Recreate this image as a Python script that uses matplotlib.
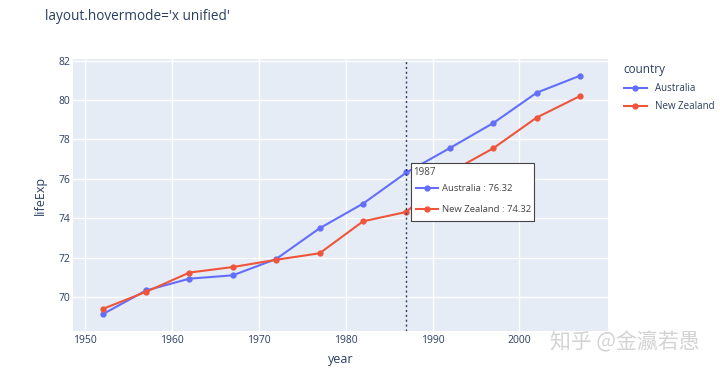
import matplotlib.pyplot as plt
from matplotlib.lines import Line2D

years = [1952, 1957, 1962, 1967, 1972, 1977, 1982, 1987, 1992, 1997, 2002, 2007]
australia = [69.12, 70.33, 70.93, 71.10, 71.93, 73.49, 74.74, 76.32, 77.56, 78.83, 80.37, 81.235]
new_zealand = [69.39, 70.26, 71.24, 71.52, 71.89, 72.22, 73.84, 74.32, 76.33, 77.55, 79.11, 80.204]
countries = ["Australia", "New Zealand"]
colors = ["#636efa", "#EF553B"]
hover_year = 1987

plt.rcParams['font.family'] = ['Open Sans', 'DejaVu Sans']
txt = "#2a3f5f"

fig = plt.figure(figsize=(7.2, 3.72), dpi=100)
ax = fig.add_axes([0.1014, 0.110, 0.743, 0.7314])
ax.set_facecolor("#E5ECF6")
for s in ax.spines.values():
    s.set_visible(False)
ax.grid(True, color="white", lw=1)
ax.set_axisbelow(True)

for name, vals, c in zip(countries, [australia, new_zealand], colors):
    ax.plot(years, vals, color=c, lw=1.5, marker="o", ms=3.5, label=name, zorder=3)

ax.set_xlim(1948.6, 2010.2)
ax.set_ylim(68.27, 82.08)
ax.set_xticks([1950, 1960, 1970, 1980, 1990, 2000])
ax.set_yticks([70, 72, 74, 76, 78, 80, 82])
ax.tick_params(axis="x", length=0, labelsize=7.5, labelcolor=txt, pad=3)
ax.tick_params(axis="y", length=0, labelsize=7.5, labelcolor=txt, pad=2)
ax.set_xlabel("year", fontsize=9, color=txt, labelpad=5)
ax.set_ylabel("lifeExp", fontsize=9, color=txt, labelpad=8)

# spike line
ax.axvline(hover_year, color="#2a3f5f", lw=1, ls=(0, (1.5, 2)), zorder=4)

# unified hover label
i = years.index(hover_year)
x0, y0 = 411 / 720, 1 - 221 / 372
w, h = 123 / 720, 58 / 372
box = plt.Rectangle((x0, y0), w, h, transform=fig.transFigure, facecolor="white",
                    edgecolor="#444444", lw=0.8, zorder=5)
fig.patches.append(box)
fig.text(x0 + 2 / 720, y0 + h - 4 / 372, str(hover_year), fontsize=7, color="#444444",
         va="top", ha="left", zorder=6)
for k, (name, vals, c) in enumerate(zip(countries, [australia, new_zealand], colors)):
    yy = y0 + h - (25 + k * 21) / 372
    fig.lines.append(Line2D([x0 + 5 / 720, x0 + 16 / 720, x0 + 27 / 720], [yy, yy, yy],
                            transform=fig.transFigure, color=c, lw=1.5, marker="o",
                            markevery=[1], ms=3.5, zorder=6))
    fig.text(x0 + 31 / 720, yy, f"{name} : {vals[i]:.2f}", fontsize=6.8, color="#444444",
             va="center", ha="left", zorder=6)

# legend
leg = ax.legend(title="country", loc="upper left", bbox_to_anchor=(1.022, 1.0),
                frameon=False, fontsize=7, title_fontsize=8.5, handlelength=2.4,
                labelspacing=0.75, borderaxespad=0)
leg._legend_box.align = "left"
for t in leg.get_texts():
    t.set_color(txt)
leg.get_title().set_color(txt)

fig.text(45 / 720, 1 - 16 / 372, "layout.hovermode='x unified'", fontsize=9.8, color=txt,
         va="center", ha="left")

fig.text(700 / 720, 1 - 342 / 372, "知乎 @金瀛若愚", fontsize=15, color="#c8c8c8",
         va="center", ha="right", family=['Noto Sans CJK SC', 'DejaVu Sans'], alpha=0.8)

fig.savefig("out.png", dpi=100)
